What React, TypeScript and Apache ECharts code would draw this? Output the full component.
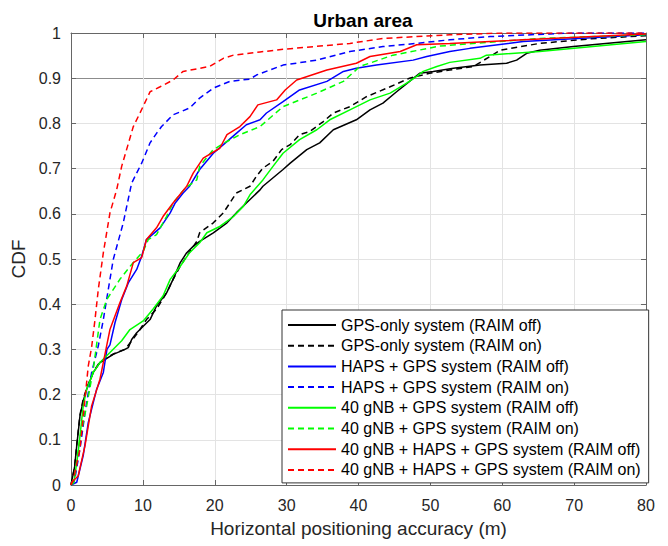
import React, { useEffect, useRef } from "react";
import * as echarts from "echarts";

// CDF samples: [horizontal error (m), cumulative probability]
const gpsOnlyOff: [number, number][] = [
  [0, 0], [0.5, 0.04], [0.8, 0.087], [1.25, 0.153], [1.7, 0.186], [2.18, 0.212], [3.1, 0.249],
  [4.03, 0.271], [5.88, 0.289], [7.5, 0.3], [7.97, 0.304], [8.44, 0.322], [9.14, 0.337],
  [11.0, 0.366], [11.9, 0.396], [13.3, 0.425], [14.2, 0.455], [15.2, 0.492], [16.1, 0.514],
  [17.0, 0.528], [17.9, 0.539], [19.8, 0.558], [21.7, 0.58], [23.0, 0.602], [24.4, 0.624],
  [26.3, 0.653], [26.7, 0.661], [29.5, 0.698], [30.5, 0.712], [32.8, 0.742], [34.6, 0.757],
  [36.5, 0.786], [39.7, 0.808], [41.6, 0.83], [43.4, 0.845], [45.3, 0.87], [47.1, 0.893],
  [48.5, 0.911], [50.4, 0.915], [53.2, 0.922], [56.9, 0.929], [60.6, 0.933], [62.0, 0.94],
  [63.4, 0.955], [65.2, 0.962], [69.9, 0.97], [80, 0.985],
];
const gpsOnlyOn: [number, number][] = [
  [0, 0], [0.5, 0.04], [0.8, 0.09], [1.25, 0.155], [1.7, 0.19], [2.2, 0.215], [3.1, 0.25],
  [4.0, 0.272], [5.9, 0.29], [7.5, 0.3], [8.4, 0.318], [9.6, 0.344], [10.5, 0.366],
  [11.9, 0.389], [13.3, 0.425], [14.2, 0.455], [15.2, 0.484], [16.1, 0.506], [17.5, 0.539],
  [17.9, 0.558], [19.8, 0.58], [21.2, 0.602], [23.0, 0.646], [24.9, 0.661], [25.8, 0.683],
  [26.7, 0.701], [28.1, 0.716], [29.3, 0.742], [30.5, 0.753], [31.8, 0.775], [33.2, 0.782],
  [35.1, 0.804], [36.5, 0.823], [38.8, 0.837], [41.1, 0.859], [44.4, 0.881], [47.1, 0.9],
  [49.9, 0.911], [52.7, 0.918], [56.0, 0.926], [58.3, 0.948], [59.7, 0.962], [65.2, 0.977],
  [72.2, 0.987], [80, 0.994],
];
const hapsGpsOff: [number, number][] = [
  [0, 0], [0.8, 0.006], [1.7, 0.065], [2.4, 0.138], [3.57, 0.212], [4.5, 0.249], [5.0, 0.3],
  [5.42, 0.31], [6.12, 0.359], [7.05, 0.41], [7.97, 0.447], [9.14, 0.477], [9.83, 0.506],
  [10.5, 0.543], [12.4, 0.569], [13.8, 0.602], [14.5, 0.624], [15.6, 0.646], [16.5, 0.661],
  [17.9, 0.698], [19.8, 0.734], [21.2, 0.753], [23.0, 0.778], [24.4, 0.797], [26.3, 0.808],
  [27.2, 0.823], [29.5, 0.848], [31.8, 0.874], [35.6, 0.893], [37.9, 0.915], [39.7, 0.922],
  [42.5, 0.929], [47.6, 0.94], [49.5, 0.948], [52.7, 0.959], [55.5, 0.966], [62.9, 0.981],
  [80, 0.996],
];
const hapsGpsOn: [number, number][] = [
  [0, 0], [0.5, 0.01], [1.25, 0.08], [1.95, 0.16], [2.87, 0.249], [3.57, 0.293], [3.8, 0.308],
  [4.5, 0.366], [5.19, 0.433], [5.88, 0.499], [7.27, 0.58], [8.44, 0.668], [9.83, 0.712],
  [11.0, 0.757], [11.9, 0.778], [12.6, 0.793], [14.2, 0.819], [16.5, 0.834], [17.9, 0.856],
  [19.8, 0.878], [22.1, 0.893], [24.9, 0.898], [25.8, 0.907], [29.5, 0.929], [34.2, 0.94],
  [38.8, 0.959], [43.4, 0.97], [48.1, 0.977], [52.7, 0.985], [58.3, 0.992], [66.6, 0.998],
  [70, 1], [80, 1],
];
const gnbGpsOff: [number, number][] = [
  [0, 0], [0.4, 0.005], [1.0, 0.072], [1.7, 0.175], [2.18, 0.212], [3.1, 0.249], [4.03, 0.271],
  [5.42, 0.293], [7.05, 0.319], [8.2, 0.344], [10.05, 0.363], [11.4, 0.389], [12.8, 0.418],
  [13.8, 0.455], [15.2, 0.484], [16.5, 0.514], [17.9, 0.536], [18.9, 0.558], [20.7, 0.572],
  [22.6, 0.594], [24.0, 0.617], [24.9, 0.642], [26.7, 0.675], [28.1, 0.705], [29.5, 0.734],
  [31.8, 0.764], [34.2, 0.786], [36.0, 0.808], [38.8, 0.83], [41.6, 0.852], [44.4, 0.867],
  [46.7, 0.889], [48.1, 0.904], [49.0, 0.915], [50.9, 0.926], [52.7, 0.935], [56.9, 0.944],
  [57.8, 0.951], [65.2, 0.959], [80, 0.981],
];
const gnbGpsOn: [number, number][] = [
  [0, 0], [0.5, 0.02], [1.2, 0.1], [2.18, 0.175], [3.1, 0.256], [4.03, 0.366], [4.96, 0.41],
  [6.8, 0.455], [8.44, 0.488], [10.05, 0.517], [10.75, 0.543], [11.9, 0.554], [13.3, 0.594],
  [14.2, 0.624], [15.9, 0.657], [17.5, 0.675], [17.9, 0.705], [19.8, 0.742], [21.7, 0.76],
  [23.5, 0.775], [26.3, 0.793], [29.5, 0.837], [34.2, 0.867], [37.9, 0.893], [40.2, 0.926],
  [44.8, 0.951], [51.3, 0.971], [65.2, 0.988], [80, 0.996],
];
const gnbHapsGpsOff: [number, number][] = [
  [0, 0], [0.1, 0.006], [1.0, 0.02], [1.95, 0.087], [2.87, 0.175], [4.03, 0.234], [4.96, 0.308],
  [5.42, 0.344], [6.8, 0.403], [7.75, 0.44], [8.67, 0.492], [9.83, 0.503], [10.5, 0.543],
  [11.9, 0.569], [12.8, 0.594], [14.2, 0.624], [16.1, 0.661], [17.0, 0.69], [18.4, 0.723],
  [20.7, 0.745], [21.7, 0.775], [23.5, 0.793], [24.9, 0.815], [26.0, 0.841], [28.6, 0.852],
  [29.8, 0.874], [31.4, 0.896], [35.6, 0.918], [39.7, 0.933], [41.6, 0.948], [45.8, 0.959],
  [48.1, 0.974], [52.7, 0.977], [80, 0.998],
];
const gnbHapsGpsOn: [number, number][] = [
  [0, 0], [0.3, 0.01], [1.25, 0.08], [2.4, 0.263], [2.87, 0.305], [3.34, 0.366], [3.8, 0.433],
  [4.5, 0.514], [5.42, 0.602], [6.35, 0.653], [7.05, 0.705], [8.67, 0.793], [9.6, 0.823],
  [11.0, 0.87], [12.4, 0.881], [14.2, 0.896], [15.6, 0.915], [19.3, 0.926], [21.2, 0.944],
  [22.6, 0.951], [26.3, 0.958], [29.5, 0.964], [38.8, 0.977], [43.4, 0.988], [52.7, 0.996],
  [60, 1], [80, 1],
];

const seriesNames = [
  "GPS-only system (RAIM off)",
  "GPS-only system (RAIM on)",
  "HAPS + GPS system (RAIM off)",
  "HAPS + GPS system (RAIM on)",
  "40 gNB + GPS system (RAIM off)",
  "40 gNB + GPS system (RAIM on)",
  "40 gNB + HAPS + GPS system (RAIM off)",
  "40 gNB + HAPS + GPS system (RAIM on)",
];
const seriesData = [
  gpsOnlyOff, gpsOnlyOn, hapsGpsOff, hapsGpsOn,
  gnbGpsOff, gnbGpsOn, gnbHapsGpsOff, gnbHapsGpsOn,
];
const seriesColors = [
  "#000000", "#000000", "#0000ff", "#0000ff",
  "#00ff00", "#00ff00", "#ff0000", "#ff0000",
];

const xTicks = [0, 10, 20, 30, 40, 50, 60, 70, 80];
const yTicks = [0, 0.1, 0.2, 0.3, 0.4, 0.5, 0.6, 0.7, 0.8, 0.9, 1];

const FONT = "'Liberation Sans', Arial, Helvetica, sans-serif";
const AXIS_COLOR = "#666666";
const TEXT_COLOR = "#262626";

export default function App() {
  const ref = useRef<HTMLDivElement>(null);

  useEffect(() => {
    if (!ref.current) return;
    const chart = echarts.init(ref.current, undefined, { renderer: "svg" });

    // light grid everywhere, with the 0.9 reference line drawn darker
    const ySplitColors = yTicks.map((v) => (Math.abs(v - 0.9) < 1e-9 ? "#8c8c8c" : "#e3e3e3"));

    const xAxisBase = {
      type: "value" as const,
      min: xTicks[0],
      max: xTicks[xTicks.length - 1],
      interval: 10,
      axisLine: { show: true, onZero: false, lineStyle: { color: AXIS_COLOR, width: 1 } },
      axisTick: { show: true, inside: true, length: 5, lineStyle: { color: AXIS_COLOR } },
    };
    const yAxisBase = {
      type: "value" as const,
      min: yTicks[0],
      max: yTicks[yTicks.length - 1],
      interval: 0.1,
      axisLine: { show: true, onZero: false, lineStyle: { color: AXIS_COLOR, width: 1 } },
      axisTick: { show: true, inside: true, length: 5, lineStyle: { color: AXIS_COLOR } },
    };

    chart.setOption({
      animation: false,
      textStyle: { fontFamily: FONT },
      title: {
        text: "Urban area",
        left: 358,
        textAlign: "center",
        top: 6,
        textStyle: { fontFamily: FONT, fontSize: 19, fontWeight: "bold", color: "#000" },
      },
      grid: { left: 71, right: 22, top: 33, bottom: 61, containLabel: false },
      xAxis: [
        {
          ...xAxisBase,
          position: "bottom",
          name: "Horizontal positioning accuracy (m)",
          nameLocation: "middle",
          nameGap: 34,
          nameTextStyle: { fontFamily: FONT, fontSize: 19, color: TEXT_COLOR },
          axisLabel: { fontFamily: FONT, fontSize: 16, color: TEXT_COLOR, margin: 12 },
          splitLine: { show: true, lineStyle: { color: "#e3e3e3", width: 1 } },
        },
        {
          ...xAxisBase,
          position: "top",
          axisLabel: { show: false },
          splitLine: { show: false },
        },
      ],
      yAxis: [
        {
          ...yAxisBase,
          position: "left",
          name: "CDF",
          nameLocation: "middle",
          nameGap: 40,
          nameTextStyle: { fontFamily: FONT, fontSize: 19, color: TEXT_COLOR },
          axisLabel: { fontFamily: FONT, fontSize: 16, color: TEXT_COLOR, margin: 10 },
          splitLine: { show: true, lineStyle: { color: ySplitColors, width: 1 } },
        },
        {
          ...yAxisBase,
          position: "right",
          axisLabel: { show: false },
          splitLine: { show: false },
        },
      ],
      legend: {
        orient: "vertical",
        left: 282,
        top: 310,
        padding: [7, 8, 5, 5],
        itemWidth: 48,
        itemHeight: 14,
        itemGap: 4.7,
        backgroundColor: "#ffffff",
        borderColor: "#333333",
        borderWidth: 1,
        borderRadius: 0,
        // line-only keys: hide the marker that line series add to their legend icon
        itemStyle: { opacity: 0 },
        textStyle: { fontFamily: FONT, fontSize: 16, color: "#000", lineHeight: 16 },
        data: seriesNames,
      },
      series: seriesNames.map((name, i) => ({
        name,
        type: "line",
        xAxisIndex: 0,
        yAxisIndex: 0,
        data: seriesData[i],
        showSymbol: false,
        symbol: "none",
        lineStyle: {
          color: seriesColors[i],
          width: 1.5,
          type: i % 2 === 1 ? [6, 4] : "solid",
        },
        itemStyle: { color: seriesColors[i] },
        z: 3,
      })),
    });

    return () => chart.dispose();
  }, []);

  return (
    <div
      ref={ref}
      style={{ position: "absolute", left: 0, top: 0, width: 668, height: 546, background: "#fff" }}
    />
  );
}
